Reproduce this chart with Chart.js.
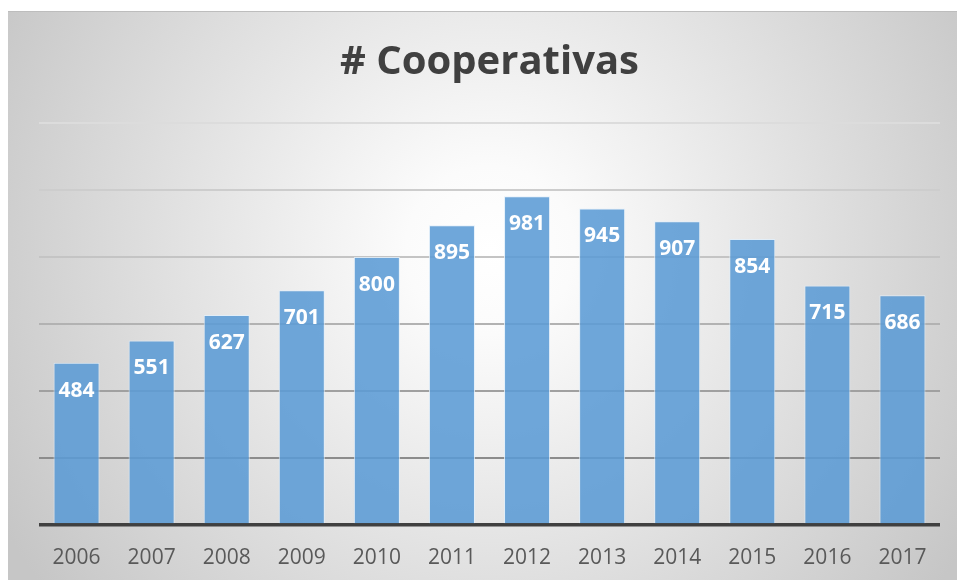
<!DOCTYPE html>
<html>
<head>
<meta charset="utf-8">
<title># Cooperativas</title>
<script src="https://cdn.jsdelivr.net/npm/chart.js@4/dist/chart.umd.min.js"></script>
<style>
    html, body { margin: 0; padding: 0; background: #ffffff; }
    #wrap { width: 957px; height: 580px; position: relative; }
</style>
</head>
<body>
<div id="wrap"><canvas id="js-coop-chart"></canvas></div>
<script>
// Chart data
const years = ["2006", "2007", "2008", "2009", "2010", "2011", "2012", "2013", "2014", "2015", "2016", "2017"];
const cooperativas = [484, 551, 627, 701, 800, 895, 981, 945, 907, 854, 715, 686];
const yTicks = [0, 200, 400, 600, 800, 1000, 1200];

// Gridlines fade out towards the top
const gridColors = ["#404040", "#8c8c8c", "#a0a0a0", "#b2b2b2", "#c4c4c4", "#cdcdcd", "#dcdcdc"];

// Frame with radial gradient, drawn behind everything
const framePlugin = {
    id: "frame",
    beforeDraw(chart) {
        const ctx = chart.ctx;
        const x0 = 8, y0 = 11, x1 = chart.width, y1 = chart.height;
        ctx.save();
        const g = ctx.createRadialGradient(490, 250, 0, 490, 250, 560);
        g.addColorStop(0, "#ffffff");
        g.addColorStop(0.15, "#fbfbfb");
        g.addColorStop(1, "#c6c6c6");
        ctx.fillStyle = g;
        ctx.fillRect(x0, y0, x1 - x0, y1 - y0);
        ctx.fillStyle = "#bdbdbd";
        ctx.fillRect(x0, y0, x1 - x0, 1);
        ctx.restore();
    },
};

// Value labels inside the top of each bar
const valueLabels = {
    id: "valueLabels",
    afterDatasetsDraw(chart) {
        const ctx = chart.ctx;
        const meta = chart.getDatasetMeta(0);
        ctx.save();
        ctx.font = "bold 21px 'Open Sans'";
        ctx.fillStyle = "#ffffff";
        ctx.textAlign = "center";
        ctx.textBaseline = "middle";
        meta.data.forEach((bar, i) => {
            ctx.fillText(String(cooperativas[i]), bar.x, bar.y + 28);
        });
        ctx.restore();
    },
};

new Chart(document.getElementById("js-coop-chart"), {
    type: "bar",
    data: {
        labels: years,
        datasets: [
            {
                label: "# Cooperativas",
                data: cooperativas,
                backgroundColor: "rgba(91, 155, 213, 0.88)",
                borderColor: "rgba(225, 238, 250, 0.85)",
                borderWidth: 1,
                categoryPercentage: 1,
                barPercentage: 0.613,
            },
        ],
    },
    options: {
        responsive: true,
        maintainAspectRatio: false,
        animation: false,
        layout: {
            padding: { left: 39, right: 17, top: 11, bottom: 0 },
        },
        scales: {
            x: {
                grid: { display: false, drawTicks: false },
                border: { display: false },
                ticks: {
                    color: "#595959",
                    font: { family: "Open Sans", size: 21 },
                    padding: 20,
                },
                afterFit(scale) {
                    scale.height = 55;
                },
            },
            y: {
                min: 0,
                max: 1200,
                afterBuildTicks(axis) {
                    axis.ticks = yTicks.map((v) => ({ value: v }));
                },
                ticks: { display: false },
                border: { display: false },
                grid: {
                    drawTicks: false,
                    color: (c) => gridColors[c.index],
                    lineWidth: (c) => (c.index === 0 ? 3.5 : 2),
                },
            },
        },
        plugins: {
            legend: { display: false },
            tooltip: { enabled: false },
            title: {
                display: true,
                text: "# Cooperativas",
                color: "#404040",
                font: { family: "Open Sans", size: 40, weight: "bold" },
                padding: { top: 28, bottom: 36 },
            },
        },
    },
    plugins: [framePlugin, valueLabels],
});
</script>
</body>
</html>
